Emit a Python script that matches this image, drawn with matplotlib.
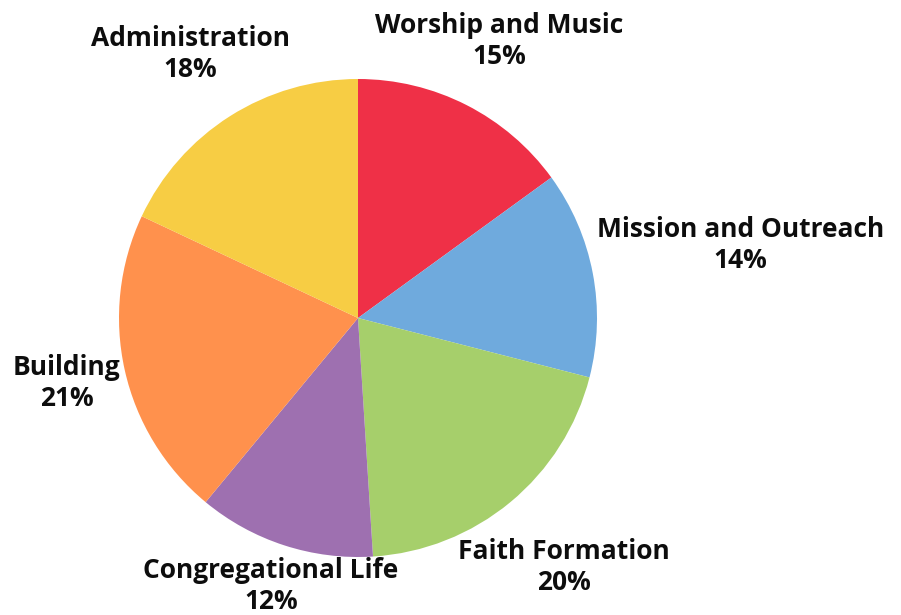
import numpy as np
import matplotlib
matplotlib.use("Agg")
import matplotlib.pyplot as plt

categories = ["Worship and Music", "Mission and Outreach", "Faith Formation",
              "Congregational Life", "Building", "Administration"]
shares = [15, 14, 20, 12, 21, 18]
colours = ["#EF3047", "#6FAADD", "#A6CF6B", "#9E70B0", "#FF914D", "#F7CD44"]

# how far out each label sits, in pie radii
label_dist = [1.30, 1.63, 1.35, 1.18, 1.25, 1.31]

fig = plt.figure(figsize=(9.01, 6.15), dpi=100)
ax = fig.add_axes([0, 0, 1, 1])

wedges, _ = ax.pie(shares, colors=colours, startangle=90, counterclock=False,
                   wedgeprops=dict(linewidth=0))

total = sum(shares)
for w, name, val, d in zip(wedges, categories, shares, label_dist):
    mid = np.deg2rad((w.theta1 + w.theta2) / 2)
    ax.text(d * np.cos(mid), d * np.sin(mid), f"{name}\n{round(100 * val / total)}%",
            ha="center", va="center", fontsize=19, fontweight="bold",
            family=["Open Sans", "DejaVu Sans"], color="#0d0d0d", linespacing=1.2)

ax.set_aspect("equal")
ax.set_xlim(-358 / 239, (901 - 358) / 239)
ax.set_ylim(-(615 - 318) / 239, 318 / 239)
ax.axis("off")

fig.savefig("out.png", dpi=100)
